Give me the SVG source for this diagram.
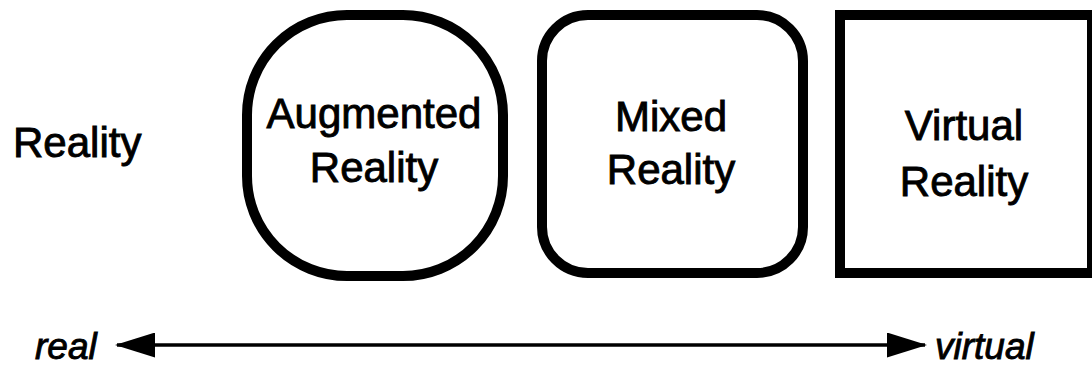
<svg xmlns="http://www.w3.org/2000/svg" width="1092" height="365" viewBox="0 0 1092 365">
  <style>
    .frame { fill: #fff; stroke: #000; stroke-width: 10; }
    .label { font-family: "Liberation Sans", Arial, Helvetica, sans-serif; font-size: 42px; fill: #000; stroke: #000; stroke-width: 0.9; text-anchor: middle; }
    .end { font-family: "Liberation Sans", Arial, Helvetica, sans-serif; font-size: 37px; font-style: italic; fill: #000; stroke: #000; stroke-width: 0.9; }
    .axis { stroke: #000; stroke-width: 3.5; fill: none; }
  </style>
  <defs>
    <marker id="head" viewBox="0 0 40 25" refX="38" refY="12.5" markerWidth="40" markerHeight="25" markerUnits="userSpaceOnUse" orient="auto-start-reverse">
      <path d="M0,0 L40,12.5 L0,25 Z" fill="#000"/>
    </marker>
  </defs>
  <rect width="1092" height="365" fill="#fff"/>

  <g id="reality">
    <text class="label" x="13" y="157" style="text-anchor:start">Reality</text>
  </g>

  <g id="augmented-reality">
    <rect class="frame" x="247" y="15" width="256" height="261" rx="100" ry="100"/>
    <text class="label" x="374" y="128">Augmented</text>
    <text class="label" x="374" y="182">Reality</text>
  </g>

  <g id="mixed-reality">
    <rect class="frame" x="542" y="15" width="261" height="258" rx="46" ry="46"/>
    <text class="label" x="671" y="131">Mixed</text>
    <text class="label" x="671" y="184">Reality</text>
  </g>

  <g id="virtual-reality">
    <rect class="frame" x="840" y="15" width="252" height="258"/>
    <text class="label" x="964" y="140">Virtual</text>
    <text class="label" x="964" y="196">Reality</text>
  </g>

  <g id="connectors">
    <line class="axis" x1="117" y1="345" x2="925" y2="345" marker-start="url(#head)" marker-end="url(#head)"/>
    <text class="end" x="35" y="359">real</text>
    <text class="end" x="935" y="359">virtual</text>
  </g>
</svg>
